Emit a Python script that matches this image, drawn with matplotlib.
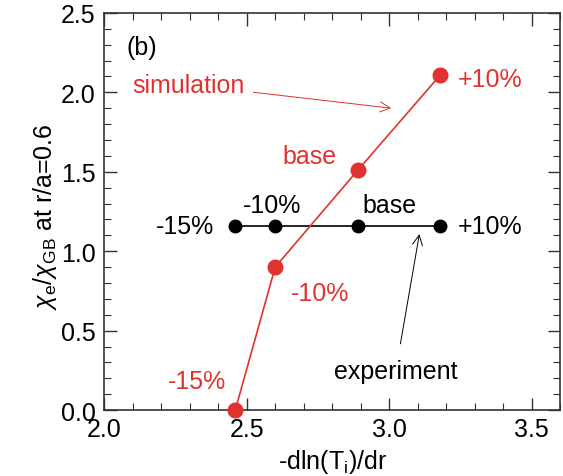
import matplotlib
matplotlib.use('Agg')
from matplotlib import pyplot as plt
from matplotlib.ticker import MultipleLocator

# datos
grad_sim = [2.46, 2.60, 2.89, 3.18]
chi_sim = [0.0, 0.90, 1.51, 2.11]
grad_exp = [2.46, 2.60, 2.89, 3.18]
chi_exp = [1.16, 1.16, 1.16, 1.16]

rojo = '#e0322f'

plt.rcParams['font.family'] = ['Liberation Sans', 'DejaVu Sans']
plt.rcParams['mathtext.fontset'] = 'custom'
plt.rcParams['mathtext.rm'] = 'Liberation Sans'
plt.rcParams['mathtext.it'] = 'Liberation Sans:italic'

fig = plt.figure(figsize=(5.63, 4.77), dpi=100)
ax = fig.add_axes([0.185, 0.138, 0.81, 0.833])

ax.plot(grad_exp, chi_exp, '-o', color='black', lw=1.2, ms=9, clip_on=False, zorder=3)
ax.plot(grad_sim, chi_sim, '-o', color=rojo, lw=1.2, ms=10.5, clip_on=False, zorder=4)

fs = 18
# etiquetas experimento
ax.text(2.385, 1.16, '-15%', ha='right', va='center', fontsize=fs)
ax.text(2.588, 1.29, '-10%', ha='center', va='center', fontsize=fs)
ax.text(3.0, 1.29, 'base', ha='center', va='center', fontsize=fs)
ax.text(3.242, 1.16, '+10%', ha='left', va='center', fontsize=fs)
# etiquetas simulacion
ax.text(3.242, 2.084, '+10%', ha='left', va='center', fontsize=fs, color=rojo)
ax.text(2.72, 1.60, 'base', ha='center', va='center', fontsize=fs, color=rojo)
ax.text(2.757, 0.735, '-10%', ha='center', va='center', fontsize=fs, color=rojo)
ax.text(2.325, 0.185, '-15%', ha='center', va='center', fontsize=fs, color=rojo)
ax.text(2.133, 2.286, '(b)', ha='center', va='center', fontsize=fs)

ax.annotate('simulation', xy=(3.007, 1.90), xytext=(2.10, 2.047),
            ha='left', va='center', fontsize=fs, color=rojo,
            arrowprops=dict(arrowstyle='->', color=rojo, lw=0.7,
                            shrinkA=4, shrinkB=0))
ax.annotate('experiment', xy=(3.106, 1.108), xytext=(3.023, 0.247),
            ha='center', va='center', fontsize=fs, color='black',
            arrowprops=dict(arrowstyle='->', color='black', lw=0.7,
                            shrinkA=9, shrinkB=0))

ax.set_xlim(2.0, 3.6)
ax.set_ylim(0.0, 2.5)
ax.xaxis.set_major_locator(MultipleLocator(0.5))
ax.xaxis.set_minor_locator(MultipleLocator(0.1))
ax.yaxis.set_major_locator(MultipleLocator(0.5))
ax.yaxis.set_minor_locator(MultipleLocator(0.1))
ax.xaxis.set_major_formatter(matplotlib.ticker.FormatStrFormatter('%.1f'))
ax.yaxis.set_major_formatter(matplotlib.ticker.FormatStrFormatter('%.1f'))
ax.tick_params(which='both', direction='in', top=True, right=True,
               labelsize=fs, color='#333333')
ax.tick_params(which='major', length=9, width=1.0, pad=6)
ax.tick_params(which='minor', length=5, width=0.8)
ax.tick_params(axis='x', which='major', pad=5)
for s in ax.spines.values():
    s.set_linewidth(1.2)
    s.set_color('#333333')

ax.set_xlabel(r'-dln(T$_\mathrm{i}$)/dr', fontsize=fs, labelpad=4)
ax.set_ylabel(r'$\chi_\mathrm{e}/\chi_\mathrm{GB}$ at r/a=0.6', fontsize=fs)
ax.yaxis.set_label_coords(-0.10, 0.49)

plt.savefig('out.png', dpi=100)
